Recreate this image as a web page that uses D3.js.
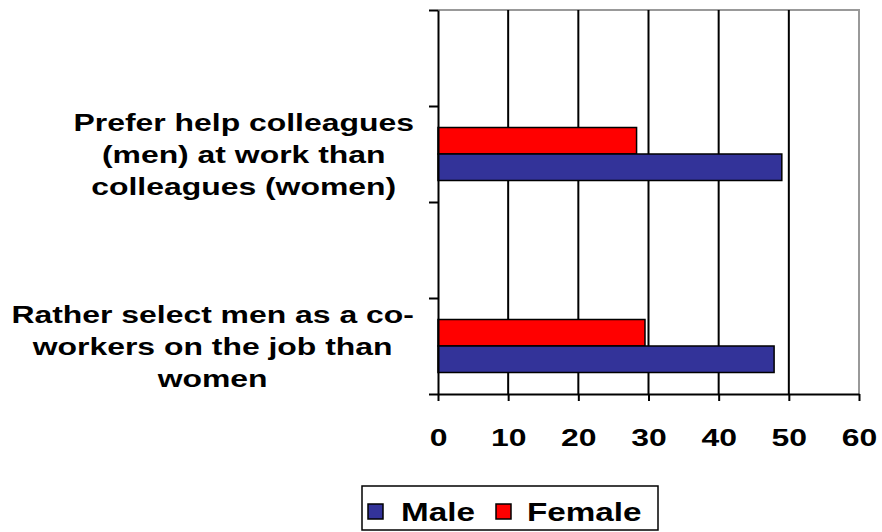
<!DOCTYPE html>
<html>
<head>
<meta charset="utf-8">
<script src="https://cdn.jsdelivr.net/npm/d3@7"></script>
<style>
  html, body { margin: 0; padding: 0; background: #fff; }
  svg { display: block; font-family: "Liberation Sans", Arial, sans-serif; font-weight: bold; }
</style>
</head>
<body>
<svg id="chart" width="882" height="532"></svg>
<script>
// Category slots, top to bottom (empty slots keep the spacing of the original layout)
const categories = [
  [],
  ["Prefer help colleagues", "(men) at work than", "colleagues (women)"],
  [],
  ["Rather select men as a co-", "workers on the job than", "women"]
];
const seriesNames = ["Male", "Female"];
const maleValues   = [null, 49.0, null, 47.9];
const femaleValues = [null, 28.3, null, 29.5];
const xTicks = [0, 10, 20, 30, 40, 50, 60];

const colors = { Male: "#333399", Female: "#ff0000" };
const stretch = 1.33;   // wide lettering
const fontSize = 24;

const svg = d3.select("#chart");
const plot = { left: 438, right: 859, top: 10, bottom: 394 };

const x = d3.scaleLinear().domain([0, 60]).range([plot.left, plot.right]);
const yBand = d3.scaleBand().domain(d3.range(categories.length))
  .range([plot.top, plot.bottom]).paddingInner(0).paddingOuter(0);
const yEdge = d3.scaleLinear().domain([0, categories.length]).range([plot.top, plot.bottom]);

// plot frame (top and right, grey)
svg.append("path")
  .attr("d", `M${plot.left},${plot.top}H${plot.right}V${plot.bottom}`)
  .attr("fill", "none").attr("stroke", "#999").attr("stroke-width", 2);

// vertical gridlines
svg.append("g").selectAll("line")
  .data(xTicks.filter(d => d > 0 && d < 60))
  .join("line")
  .attr("x1", d => x(d)).attr("x2", d => x(d))
  .attr("y1", plot.top).attr("y2", plot.bottom)
  .attr("stroke", "#000").attr("stroke-width", 2);

// bars: Female on top, Male beneath, within each slot
const barH = 26.5;
const groupOffset = (yBand.bandwidth() - 2 * barH) / 2;
const rows = [];
categories.forEach((c, i) => {
  if (femaleValues[i] != null) rows.push({ i, name: "Female", v: femaleValues[i], k: 0 });
  if (maleValues[i] != null) rows.push({ i, name: "Male", v: maleValues[i], k: 1 });
});
svg.append("g").selectAll("rect")
  .data(rows)
  .join("rect")
  .attr("x", x(0))
  .attr("y", d => yBand(d.i) + groupOffset + d.k * barH)
  .attr("width", d => x(d.v) - x(0))
  .attr("height", barH)
  .attr("fill", d => colors[d.name])
  .attr("stroke", "#000").attr("stroke-width", 1.5);

// x axis
const xAxis = svg.append("g")
  .attr("transform", `translate(0,${plot.bottom})`)
  .call(d3.axisBottom(x).tickValues(xTicks).tickSize(7).tickSizeOuter(0));
xAxis.select(".domain").attr("stroke", "#000").attr("stroke-width", 2);
xAxis.selectAll(".tick line").attr("stroke", "#000").attr("stroke-width", 2);
xAxis.selectAll(".tick text")
  .attr("y", 0).attr("dy", 0)
  .attr("transform", `translate(0,52) scale(${stretch},1)`)
  .attr("font-size", fontSize).attr("font-weight", "bold")
  .attr("font-family", "Liberation Sans, Arial, sans-serif")
  .attr("fill", "#000");

// y axis with ticks at slot boundaries
const yAxis = svg.append("g")
  .attr("transform", `translate(${plot.left},0)`)
  .call(d3.axisLeft(yEdge).tickValues(d3.range(categories.length + 1))
    .tickFormat("").tickSize(9).tickSizeOuter(0));
yAxis.select(".domain").attr("stroke", "#000").attr("stroke-width", 2);
yAxis.selectAll(".tick line").attr("stroke", "#000").attr("stroke-width", 2);

// category labels: each wrapped block sits flush against the axis,
// its lines centred within the block
const labelRight = 414, lineGap = 32;
categories.forEach((lines, i) => {
  if (!lines.length) return;
  const cy = yBand(i) + yBand.bandwidth() / 2;
  const firstBaseline = cy - lineGap * (lines.length - 1) / 2 + 9;
  const texts = lines.map((t, j) => svg.append("text")
    .attr("text-anchor", "middle")
    .attr("font-size", fontSize)
    .attr("fill", "#000")
    .text(t));
  const blockW = d3.max(texts, s => s.node().getComputedTextLength()) * stretch;
  const cx = labelRight - blockW / 2;
  texts.forEach((s, j) =>
    s.attr("transform", `translate(${cx},${firstBaseline + j * lineGap}) scale(${stretch},1)`));
});

// legend
const legend = svg.append("g");
legend.append("rect")
  .attr("x", 362).attr("y", 486).attr("width", 296).attr("height", 44)
  .attr("fill", "#fff").attr("stroke", "#000").attr("stroke-width", 1.5);
const legendItems = [
  { name: "Male", sx: 368, tx: 401 },
  { name: "Female", sx: 496, tx: 527 }
];
legendItems.forEach(it => {
  legend.append("rect")
    .attr("x", it.sx).attr("y", 504).attr("width", 15).attr("height", 15)
    .attr("fill", colors[it.name]).attr("stroke", "#000").attr("stroke-width", 1.5);
  legend.append("text")
    .attr("transform", `translate(${it.tx},521) scale(${stretch},1)`)
    .attr("font-size", fontSize + 1)
    .attr("fill", "#000")
    .text(it.name);
});
</script>
</body>
</html>
